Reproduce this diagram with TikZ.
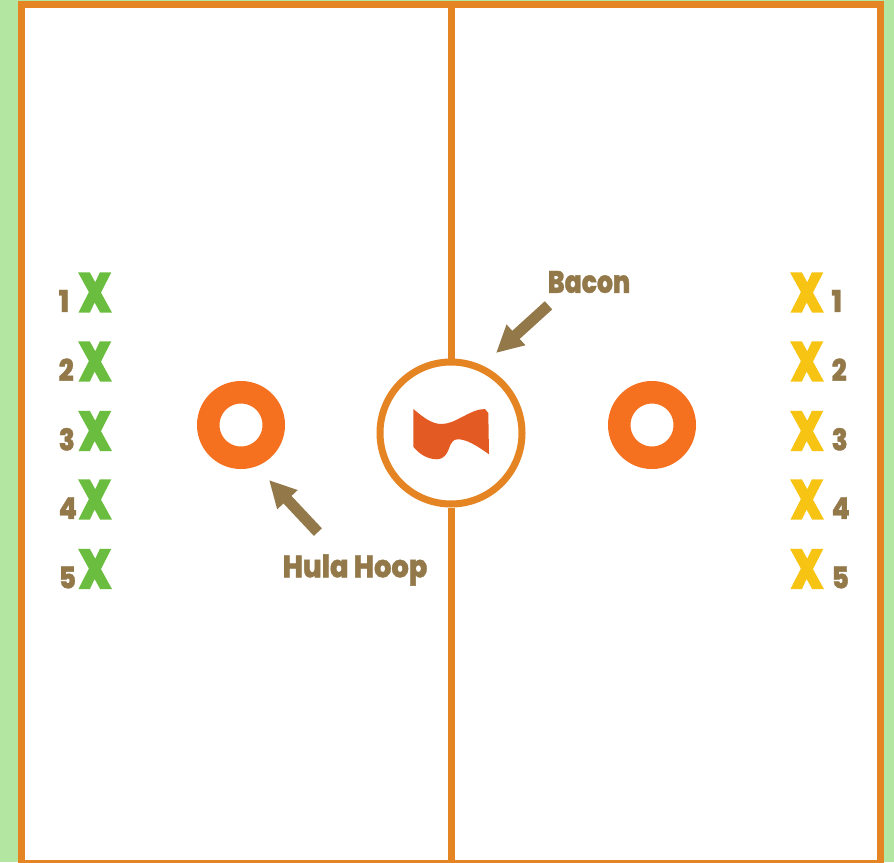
\documentclass[tikz,border=0pt]{standalone}
\usepackage{fontspec}
\usepackage{graphicx}
\setmainfont{Poppins}
\newfontfamily\heavyfont[RawFeature={embolden=1.2}]{Poppins ExtraBold}
\newfontfamily\playerfont[RawFeature={embolden=3}]{Poppins ExtraBold}
\usetikzlibrary{arrows.meta,positioning}
\definecolor{lawn}{HTML}{B2E6A1}
\definecolor{courtline}{HTML}{E58423}
\definecolor{hoopfill}{HTML}{F5711F}
\definecolor{baconfill}{HTML}{E35B22}
\definecolor{labeltext}{HTML}{93794A}
\definecolor{teamgreen}{HTML}{6ABD3F}
\definecolor{teamyellow}{HTML}{F7C413}
\newcommand{\squeezed}[2]{\scalebox{#1}[1]{#2}}

\begin{document}
\begin{tikzpicture}[x=1pt,y=-1pt,
pointer/.style={-{Triangle[width=26pt,length=27pt]},draw=labeltext,line width=11pt},
hoop/.style={circle,draw=hoopfill,line width=22.5pt,minimum size=65.5pt,inner sep=0pt},
callout/.style={text=labeltext,font=\heavyfont\fontsize{31}{31}\selectfont,inner sep=0pt},
number/.style={text=labeltext,font=\heavyfont\fontsize{30}{30}\selectfont,inner sep=0pt,anchor=base west},
player/.style={font=\playerfont\fontsize{55}{55}\selectfont,inner sep=0pt}]
\useasboundingbox (0,0) rectangle (894,862);

\fill[lawn] (0,0) rectangle (894,862);
\draw[courtline,fill=white,line width=7pt] (21.5,4.5) rectangle (880.5,863);

\node[circle,draw=courtline,fill=white,line width=7pt,minimum size=142pt,inner sep=0pt] (Centre) at (451,433) {};
\coordinate (TopMid) at (451,5);
\coordinate (BottomMid) at (451,862);
\draw[courtline,line width=7pt] (TopMid) -- (Centre.north);
\draw[courtline,line width=7pt] (Centre.south) -- (BottomMid);

\node[hoop] (HoopL) at (241,425) {};
\node[hoop] (HoopR) at (652,425) {};

% the bacon
\fill[baconfill] (413.3,409) .. controls (424,418) and (432,424) .. (441.7,424)
.. controls (456,424) and (470,409) .. (485,409) -- (488.3,413) -- (489,454.3)
.. controls (476,445) and (466,439) .. (457.3,439.3)
.. controls (450,440) and (450,448) .. (447,453)
.. controls (444,458) and (440,459.3) .. (436.7,459.3)
.. controls (428,459) and (420,455) .. (413.3,446.7) -- cycle;

\node[callout] (Bacon) at (589,282) {\squeezed{0.81}{Bacon}};
\node[callout] (HulaHoop) at (355,570) {\squeezed{0.88}{Hula Hoop}};
\coordinate (BaconTip) at (496,353);
\coordinate (HulaTip) at (269,480);
\draw[pointer,shorten <=15pt] ([xshift=12pt,yshift=-2pt]Bacon.south west) -- (BaconTip);
\draw[pointer,shorten <=33pt] ([xshift=58pt,yshift=-2pt]HulaHoop.north west) -- (HulaTip);

\foreach \i/\yy in {1/292.5,2/361.5,3/431,4/499.5,5/569}{
\node[player,text=teamgreen] (GreenX\i) at (95,\yy) {\squeezed{0.8}{X}};
\node[number] (GreenNum\i) at ([xshift=-20pt]GreenX\i.base west) {\squeezed{0.88}{\i}};
\node[player,text=teamyellow] (YellowX\i) at (807,\yy) {\squeezed{0.8}{X}};
\node[number] (YellowNum\i) at ([xshift=8pt]YellowX\i.base east) {\squeezed{0.88}{\i}};
}
\end{tikzpicture}
\end{document}
